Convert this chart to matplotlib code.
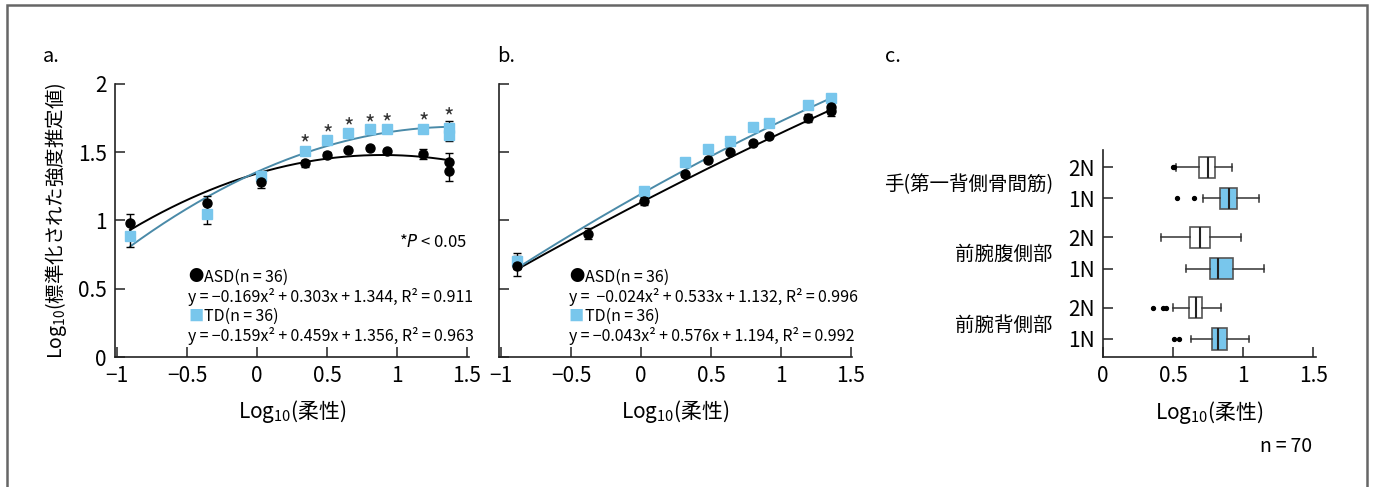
import numpy as np
import matplotlib
matplotlib.use('Agg')
from matplotlib import pyplot as plt
from matplotlib.patches import Rectangle
from matplotlib.transforms import blended_transform_factory

plt.rcParams['font.family'] = ['Noto Sans CJK JP', 'DejaVu Sans']
plt.rcParams['axes.unicode_minus'] = True

# ---- panel a data (Log10 flexibility vs normalised strength estimate)
xa = [-0.907, -0.355, 0.029, 0.343, 0.502, 0.652, 0.807, 0.929, 1.188, 1.369, 1.369]
asd_a = [0.98, 1.13, 1.28, 1.42, 1.48, 1.514, 1.529, 1.509, 1.487, 1.431, 1.363]
asd_a_err = [0.07, 0.05, 0.04, 0.025, 0.02, 0.015, 0.015, 0.015, 0.04, 0.065, 0.07]
td_a = [0.885, 1.045, 1.325, 1.511, 1.587, 1.641, 1.668, 1.670, 1.668, 1.68, 1.625]
td_a_err = [0.08, 0.07, 0.03, 0.025, 0.02, 0.015, 0.015, 0.015, 0.03, 0.05, 0.045]
star_x = [0.343, 0.502, 0.652, 0.807, 0.929, 1.188, 1.369]
coef_asd_a = [-0.169, 0.303, 1.344]
coef_td_a = [-0.159, 0.459, 1.356]

# ---- panel b data
xb_asd = [-0.888, -0.381, 0.021, 0.314, 0.479, 0.636, 0.798, 0.912, 1.19, 1.355, 1.355]
asd_b = [0.667, 0.903, 1.143, 1.338, 1.441, 1.502, 1.565, 1.621, 1.753, 1.829, 1.802]
asd_b_err = [0.07, 0.04, 0.03, 0.02, 0.015, 0.015, 0.015, 0.015, 0.03, 0.04, 0.04]
xb_td = [-0.888, 0.021, 0.314, 0.479, 0.636, 0.798, 0.912, 1.19, 1.355]
td_b = [0.703, 1.216, 1.431, 1.526, 1.580, 1.685, 1.717, 1.846, 1.90]
td_b_err = [0.06, 0.03, 0.03, 0.015, 0.015, 0.015, 0.015, 0.02, 0.03]
coef_asd_b = [-0.024, 0.533, 1.132]
coef_td_b = [-0.043, 0.576, 1.194]

# ---- panel c data (box plots), bottom to top
box_labels = ['1N', '2N', '1N', '2N', '1N', '2N']
groups = ['前腕背側部', '前腕腹側部', '手(第一背側骨間筋)']
whislo = [0.629, 0.498, 0.595, 0.412, 0.712, 0.521]
q1 = [0.779, 0.617, 0.760, 0.619, 0.836, 0.686]
med = [0.819, 0.664, 0.819, 0.690, 0.902, 0.748]
q3 = [0.886, 0.709, 0.926, 0.767, 0.955, 0.802]
whishi = [1.043, 0.840, 1.152, 0.988, 1.114, 0.919]
fliers = [[0.507, 0.545], [0.355, 0.426, 0.45], [], [], [0.531, 0.652], [0.50, 0.51]]

BLUE = '#78c6ec'
LINE_TD = '#4a8aa8'
W, H = 1373, 487
TS = '\u2009'  # thin space

fig = plt.figure(figsize=(W / 100, H / 100), dpi=100)


def ax_px(l, t, r, b):
    return fig.add_axes([l / W, (H - b) / H, (r - l) / W, (b - t) / H])


def style(ax):
    for s in ['top', 'right']:
        ax.spines[s].set_visible(False)
    for s in ['left', 'bottom']:
        ax.spines[s].set_linewidth(1.2)
        ax.spines[s].set_color('#222222')
    ax.tick_params(direction='in', length=7, width=1.1, labelsize=15, pad=6, color='#222222')


def eq(a, b, c, r):
    s = f'y{TS}={TS}{a}x²{TS}+{TS}{b}x{TS}+{TS}{c}, R²{TS}={TS}{r}'
    return s.replace('-', '−')


def scatter_panel(ax, xs_asd, ya, ea, xs_td, yt, et, ca, ct):
    xx = np.linspace(min(xs_asd), max(xs_asd), 200)
    ax.plot(xx, np.polyval(ca, xx), color='black', lw=1.4, zorder=2)
    ax.plot(xx, np.polyval(ct, xx), color=LINE_TD, lw=1.4, zorder=2)
    ax.errorbar(xs_asd, ya, yerr=ea, fmt='none', ecolor='black', elinewidth=1, capsize=3, zorder=3)
    ax.errorbar(xs_td, yt, yerr=et, fmt='none', ecolor='black', elinewidth=1, capsize=3, zorder=3)
    ax.plot(xs_td, yt, 's', color=BLUE, ms=6.5, zorder=4)
    ax.plot(xs_asd, ya, 'o', color='black', ms=6.5, zorder=5)
    ax.set_ylim(0, 2)
    ax.set_yticks([0, 0.5, 1, 1.5, 2])
    ax.set_yticklabels(['0', '0.5', '1', '1.5', '2'])
    ax.set_xticks([-1, -0.5, 0, 0.5, 1, 1.5])
    ax.set_xticklabels(['−1', '−0.5', '0', '0.5', '1', '1.5'])
    ax.set_xlabel('Log$_\\mathregular{10}$(柔性)', fontsize=15)
    ax.xaxis.set_label_coords(0.5, -0.15)


def legend_text(ax, x, lines):
    ys = [277, 297, 316, 336]
    fs = 11.5
    for y, (sym, col, txt) in zip(ys, lines):
        yf = (357 - y) / 273 * 2
        if sym:
            ax.text(x, yf, sym, color=col, fontsize=11, va='center', ha='left')
            ax.text(x + 0.112, yf, txt, fontsize=fs, va='center', ha='left')
        else:
            ax.text(x, yf, txt, fontsize=fs, va='center', ha='left')


# ---------------- panel a
ax_a = ax_px(115, 84, 469, 357)
style(ax_a)
scatter_panel(ax_a, xa, asd_a, asd_a_err, xa, td_a, td_a_err, coef_asd_a, coef_td_a)
ax_a.set_xlim(-1.014, 1.514)
ax_a.set_ylabel('Log$_\\mathregular{10}$(標準化された強度推定値)', fontsize=14)
ax_a.yaxis.set_label_coords(-0.13, 0.5)
for sx in star_x:
    i = xa.index(sx)
    ty = td_a[i] + td_a_err[i] + 0.02
    ax_a.text(sx, ty, '*', ha='center', va='center', fontsize=16, color='#333333')
ax_a.text(1.5, 0.84, '*$\\it{P}$ < 0.05', ha='right', va='center', fontsize=12)
legend_text(ax_a, -0.49, [
    ('●', 'black', f'ASD(n{TS}={TS}36)'),
    (None, None, eq('-0.169', '0.303', '1.344', '0.911')),
    ('■', BLUE, f'TD(n{TS}={TS}36)'),
    (None, None, eq('-0.159', '0.459', '1.356', '0.963')),
])

# ---------------- panel b
ax_b = ax_px(499, 84, 852, 357)
style(ax_b)
scatter_panel(ax_b, xb_asd, asd_b, asd_b_err, xb_td, td_b, td_b_err, coef_asd_b, coef_td_b)
ax_b.set_xlim(-1.014, 1.507)
ax_b.tick_params(axis='y', labelleft=False)
legend_text(ax_b, -0.515, [
    ('●', 'black', f'ASD(n{TS}={TS}36)'),
    (None, None, eq(' -0.024', '0.533', '1.132', '0.996')),
    ('■', BLUE, f'TD(n{TS}={TS}36)'),
    (None, None, eq('-0.043', '0.576', '1.194', '0.992')),
])

# ---------------- panel c
ax_c = ax_px(1103, 150, 1316, 357)
style(ax_c)
pos = [0, 1, 2.26, 3.26, 4.52, 5.52]
stats = []
for i in range(6):
    stats.append(dict(whislo=whislo[i], q1=q1[i], med=med[i], q3=q3[i],
                      whishi=whishi[i], fliers=fliers[i]))
bp = ax_c.bxp(stats, positions=pos, vert=False, widths=0.68, patch_artist=True,
              capwidths=0.22,
              boxprops=dict(edgecolor='#555555', linewidth=1.2),
              medianprops=dict(color='#222222', linewidth=1.5),
              whiskerprops=dict(color='#333333', linewidth=1.1),
              capprops=dict(color='#333333', linewidth=1.1),
              flierprops=dict(marker='o', markersize=2.8, markerfacecolor='black',
                              markeredgecolor='black'))
for i, b in enumerate(bp['boxes']):
    b.set_facecolor(BLUE if box_labels[i] == '1N' else 'white')
ax_c.set_ylim(-0.58, 6.07)
ax_c.set_yticks(pos)
ax_c.set_yticklabels(box_labels)
ax_c.set_xlim(0, 1.52)
ax_c.set_xticks([0, 0.5, 1, 1.5])
ax_c.set_xticklabels(['0', '0.5', '1', '1.5'])
ax_c.set_xlabel('Log$_\\mathregular{10}$(柔性)', fontsize=15)
ax_c.xaxis.set_label_coords(0.5, -0.205)
tr = blended_transform_factory(ax_c.transAxes, ax_c.transData)
for g, (p0, p1) in zip(groups, [(pos[0], pos[1]), (pos[2], pos[3]), (pos[4], pos[5])]):
    ax_c.text(-50 / 213, (p0 + p1) / 2 - 0.05, g, transform=tr, ha='right', va='center', fontsize=14)

# panel letters and note
fig.text(43 / W, 1 - 56 / H, 'a.', fontsize=14.5, va='center', ha='left')
fig.text(497 / W, 1 - 56 / H, 'b.', fontsize=14.5, va='center', ha='left')
fig.text(885 / W, 1 - 56 / H, 'c.', fontsize=14.5, va='center', ha='left')
fig.text(1312 / W, 1 - 447 / H, f'n{TS}={TS}70', fontsize=14, va='center', ha='right')

# outer frame
fig.patches.append(Rectangle((7 / W, -0.02), 1360 / W, (H - 5) / H + 0.02,
                             transform=fig.transFigure, fill=False,
                             edgecolor='#666666', linewidth=1.8))

fig.savefig('out.png', dpi=100)
